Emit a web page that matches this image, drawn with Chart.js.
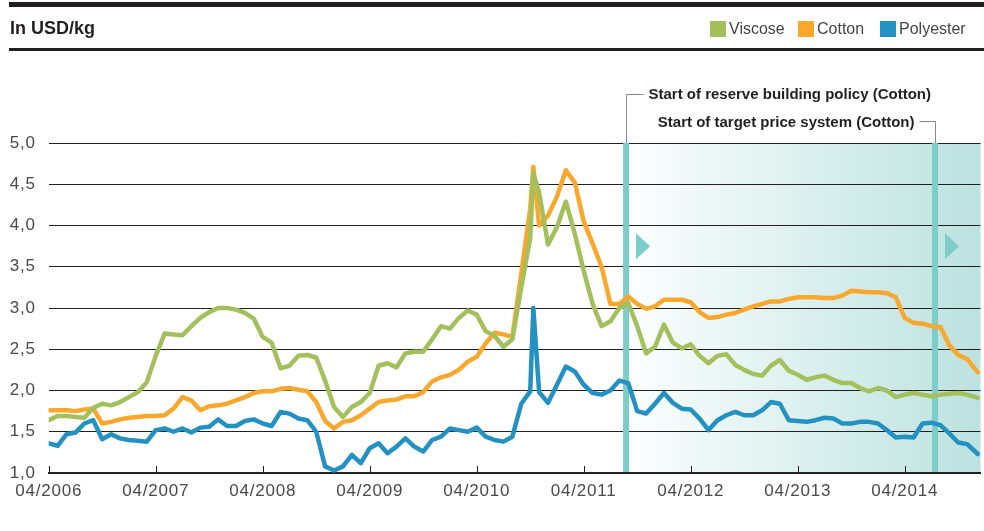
<!DOCTYPE html>
<html>
<head>
<meta charset="utf-8">
<title>Fibre prices</title>
<script src="https://cdn.jsdelivr.net/npm/chart.js@4.4.1/dist/chart.umd.min.js"></script>
<style>
  body { margin: 0; background: #fff; font-family: 'Liberation Sans', Arial, sans-serif; }
  .c-site { position: relative; width: 984px; height: 531px; overflow: hidden; }
  .c-bar { position: absolute; left: 9px; right: 0; background: #231f20; }
  .c-bar--top { top: 2px; height: 5px; }
  .c-bar--sub { top: 48px; height: 3px; }
  .c-title { position: absolute; left: 10px; top: 19px; font-size: 18px; line-height: 18px; font-weight: bold; color: #231f20; }
  .c-legend__item { position: absolute; top: 21px; height: 16px; font-size: 16px; line-height: 16px; color: #444; white-space: nowrap; }
  .c-legend__swatch { position: absolute; left: 0; top: 0; width: 16px; height: 16px; }
  .c-legend__label { position: absolute; left: 19px; top: 0; }
  canvas { position: absolute; left: 0; top: 0; }
</style>
</head>
<body>
<div class="c-site">
  <canvas id="myChart" width="984" height="531"></canvas>
  <div class="c-bar c-bar--top"></div>
  <div class="c-bar c-bar--sub"></div>
  <div class="c-title">In USD/kg</div>
  <div class="js-legend"></div>
</div>
<script>
// months counted from 04/2006 (0 = April 2006)
const months = [
  0, 1, 2, 3, 4, 5, 6, 7, 8, 9,
  10, 11, 12, 13, 14, 15, 16, 17, 18, 19,
  20, 21, 22, 23, 24, 25, 26, 27, 28, 29,
  30, 31, 32, 33, 34, 35, 36, 37, 38, 39,
  40, 41, 42, 43, 44, 45, 46, 47, 48, 49,
  50, 51, 52, 53, 54, 54.35,
  55, 56, 57, 58, 59, 60, 61, 62, 63, 64,
  65, 66, 67, 68, 69, 70, 71, 72, 73, 74,
  75, 76, 77, 78, 79, 80, 81, 82, 83, 84,
  85, 86, 87, 88, 89, 90, 91, 92, 93, 94,
  95, 96, 97, 98, 99, 100, 101, 102, 103, 104.2,
];

const viscose = [
  1.64, 1.69, 1.69, 1.68, 1.67, 1.79, 1.84, 1.82, 1.86, 1.92,
  1.98, 2.10, 2.42, 2.69, 2.68, 2.67, 2.78, 2.88, 2.95, 3.00,
  3.00, 2.98, 2.94, 2.87, 2.65, 2.58, 2.27, 2.30, 2.42, 2.43,
  2.40, 2.12, 1.80, 1.68, 1.80, 1.86, 1.97, 2.30, 2.33, 2.28,
  2.45, 2.47, 2.47, 2.62, 2.78, 2.75, 2.88, 2.97, 2.92, 2.72,
  2.66, 2.53, 2.62, 3.25, 3.85, 4.63,
  4.40, 3.77, 3.98, 4.29, 3.90, 3.45, 3.05, 2.78, 2.84, 3.00,
  3.06, 2.78, 2.45, 2.53, 2.80, 2.58, 2.51, 2.56, 2.42, 2.33,
  2.42, 2.44, 2.31, 2.25, 2.20, 2.18, 2.30, 2.37, 2.24, 2.19,
  2.13, 2.16, 2.18, 2.13, 2.09, 2.09, 2.03, 1.99, 2.03, 2.00,
  1.92, 1.95, 1.97, 1.95, 1.93, 1.95, 1.96, 1.97, 1.95, 1.91,
];

const cotton = [
  1.76, 1.76, 1.76, 1.75, 1.77, 1.78, 1.60, 1.62, 1.65, 1.67,
  1.68, 1.69, 1.69, 1.70, 1.78, 1.92, 1.88, 1.76, 1.81, 1.82,
  1.84, 1.88, 1.92, 1.97, 1.99, 1.99, 2.02, 2.03, 2.01, 1.99,
  1.86, 1.63, 1.54, 1.62, 1.64, 1.70, 1.78, 1.86, 1.88, 1.89,
  1.93, 1.93, 1.98, 2.11, 2.16, 2.19, 2.25, 2.35, 2.41, 2.57,
  2.70, 2.68, 2.65, 3.42, 4.20, 4.71,
  4.00, 4.12, 4.35, 4.67, 4.52, 4.05, 3.78, 3.50, 3.05, 3.05,
  3.14, 3.05, 2.99, 3.02, 3.10, 3.10, 3.10, 3.07, 2.95, 2.88,
  2.89, 2.92, 2.94, 2.98, 3.02, 3.05, 3.08, 3.08, 3.11, 3.13,
  3.13, 3.13, 3.12, 3.12, 3.15, 3.21, 3.20, 3.19, 3.19, 3.18,
  3.13, 2.88, 2.82, 2.81, 2.78, 2.77, 2.55, 2.43, 2.38, 2.22,
];

const polyester = [
  1.36, 1.33, 1.47, 1.49, 1.60, 1.64, 1.41, 1.47, 1.42, 1.40,
  1.39, 1.38, 1.52, 1.54, 1.50, 1.54, 1.49, 1.55, 1.56, 1.65,
  1.57, 1.57, 1.63, 1.65, 1.60, 1.57, 1.74, 1.72, 1.66, 1.64,
  1.50, 1.08, 1.03, 1.08, 1.22, 1.12, 1.30, 1.36, 1.24, 1.32,
  1.42, 1.32, 1.26, 1.40, 1.44, 1.54, 1.52, 1.50, 1.55, 1.44,
  1.40, 1.38, 1.44, 1.84, 1.99, 3.00,
  1.98, 1.85, 2.07, 2.29, 2.23, 2.07, 1.97, 1.95, 2.00, 2.12,
  2.09, 1.75, 1.72, 1.84, 1.97, 1.85, 1.78, 1.77, 1.66, 1.52,
  1.64, 1.70, 1.74, 1.70, 1.70, 1.76, 1.86, 1.84, 1.64, 1.63,
  1.62, 1.64, 1.67, 1.66, 1.60, 1.60, 1.62, 1.62, 1.60, 1.52,
  1.43, 1.44, 1.43, 1.60, 1.61, 1.58, 1.48, 1.37, 1.35, 1.23,
];

const seriesNames = ['Viscose', 'Cotton', 'Polyester'];
const seriesColors = ['#a4c05c', '#f9a72d', '#2391c2'];
const xTickMonths = [0, 12, 24, 36, 48, 60, 72, 84, 96];
const xTickLabels = ['04/2006', '04/2007', '04/2008', '04/2009', '04/2010', '04/2011', '04/2012', '04/2013', '04/2014'];

// policy events (month index) and their labels
const eventMonths = [64.75, 99.4];
const eventLabels = ['Start of reserve building policy (Cotton)', 'Start of target price system (Cotton)'];

const fontFamily = "'Liberation Sans', Arial, sans-serif";
const teal = '#7dcdc8';

const makeLegend = function () {
  const legend = document.querySelector('.js-legend');
  const lefts = [710, 798, 880];
  seriesNames.forEach(function (name, i) {
    const item = document.createElement('div');
    item.className = 'c-legend__item';
    item.style.left = lefts[i] + 'px';
    item.innerHTML = `<span class="c-legend__swatch" style="background:${seriesColors[i]}"></span><span class="c-legend__label">${name}</span>`;
    legend.appendChild(item);
  });
};

const toPoints = function (values) {
  return months.map((m, i) => ({ x: m, y: values[i] }));
};

const makeChart = function () {
  // shading, event lines, tick marks and the notes above the chart
  const decorations = {
    id: 'decorations',
    beforeDraw(chart) {
      const { ctx, chartArea: { top, bottom, right }, scales: { x } } = chart;
      const x0 = x.getPixelForValue(eventMonths[0]);
      const grad = ctx.createLinearGradient(x0, 0, right, 0);
      grad.addColorStop(0, '#fcfefe');
      grad.addColorStop(1, '#bce2df');
      ctx.save();
      ctx.fillStyle = grad;
      ctx.fillRect(x0, top, right - x0, bottom - top);
      ctx.restore();
      // wider tick label spacing, reset in afterDraw
      ctx.letterSpacing = '0.8px';
    },
    beforeDatasetsDraw(chart) {
      const { ctx, chartArea: { top, bottom }, scales: { x, y } } = chart;
      ctx.save();
      ctx.letterSpacing = '0px';

      // small upward ticks on the time axis
      ctx.strokeStyle = '#231f20';
      ctx.lineWidth = 1;
      xTickMonths.forEach(function (m) {
        const px = Math.round(x.getPixelForValue(m)) + 0.5;
        ctx.beginPath();
        ctx.moveTo(px, bottom - 7);
        ctx.lineTo(px, bottom);
        ctx.stroke();
      });

      // event lines + arrows
      const yMid = y.getPixelForValue(3.75);
      eventMonths.forEach(function (m) {
        const px = x.getPixelForValue(m);
        ctx.fillStyle = teal;
        ctx.fillRect(px - 3, top, 6, bottom - top - 1);
        ctx.beginPath();
        ctx.moveTo(px + 10, yMid - 13);
        ctx.lineTo(px + 24, yMid);
        ctx.lineTo(px + 10, yMid + 13);
        ctx.closePath();
        ctx.fill();
      });
      ctx.restore();
    },
    afterDraw(chart) {
      const { ctx, chartArea: { top }, scales: { x } } = chart;
      ctx.letterSpacing = '0px';
      ctx.save();
      ctx.strokeStyle = '#8a8a8a';
      ctx.lineWidth = 1;
      ctx.fillStyle = '#231f20';
      ctx.font = 'bold 15px ' + fontFamily;
      ctx.textBaseline = 'alphabetic';

      const xa = Math.round(x.getPixelForValue(eventMonths[0])) + 0.5;
      ctx.beginPath();
      ctx.moveTo(xa, top);
      ctx.lineTo(xa, top - 48.5);
      ctx.lineTo(xa + 17, top - 48.5);
      ctx.stroke();
      ctx.textAlign = 'left';
      ctx.fillText(eventLabels[0], xa + 22, top - 44);

      const xb = Math.round(x.getPixelForValue(eventMonths[1])) + 0.5;
      ctx.beginPath();
      ctx.moveTo(xb, top);
      ctx.lineTo(xb, top - 21.5);
      ctx.lineTo(xb - 16, top - 21.5);
      ctx.stroke();
      ctx.textAlign = 'right';
      ctx.fillText(eventLabels[1], xb - 21, top - 16.5);
      ctx.restore();
    },
  };

  const data = {
    datasets: [
      { label: seriesNames[0], data: toPoints(viscose), borderColor: seriesColors[0], order: 2 },
      { label: seriesNames[1], data: toPoints(cotton), borderColor: seriesColors[1], order: 3 },
      { label: seriesNames[2], data: toPoints(polyester), borderColor: seriesColors[2], order: 1 },
    ],
  };

  const config = {
    type: 'line',
    data,
    options: {
      responsive: false,
      animation: false,
      devicePixelRatio: 1,
      layout: { padding: { left: 0, right: 3.5, top: 143, bottom: 0 } },
      elements: {
        line: { borderWidth: 4.5, tension: 0, borderJoinStyle: 'round', borderCapStyle: 'round', fill: false },
        point: { radius: 0, hoverRadius: 0 },
      },
      plugins: {
        legend: { display: false },
        tooltip: { enabled: false },
      },
      scales: {
        x: {
          type: 'linear',
          min: 0,
          max: 104.5,
          afterBuildTicks(scale) { scale.ticks = xTickMonths.map((m) => ({ value: m })); },
          afterFit(scale) { scale.height = 58; },
          grid: { display: true, drawOnChartArea: false, drawTicks: false },
          border: { display: true, color: '#231f20', width: 2 },
          ticks: {
            autoSkip: false,
            maxRotation: 0,
            padding: 8,
            color: '#4a4a4a',
            font: { size: 17, family: fontFamily },
            callback: (v) => xTickLabels[xTickMonths.indexOf(v)] || '',
          },
        },
        y: {
          min: 1,
          max: 5,
          afterFit(scale) { scale.width = 48.7; },
          grid: { color: '#231f20', lineWidth: 1, drawTicks: false },
          border: { display: false },
          ticks: {
            stepSize: 0.5,
            padding: 13,
            color: '#4a4a4a',
            font: { size: 17, family: fontFamily },
            callback: (v) => v.toFixed(1).replace('.', ','),
          },
        },
      },
    },
    plugins: [decorations],
  };

  new Chart(document.getElementById('myChart'), config);
};

const init = function () {
  makeLegend();
  makeChart();
};
document.addEventListener('DOMContentLoaded', init);
</script>
</body>
</html>
